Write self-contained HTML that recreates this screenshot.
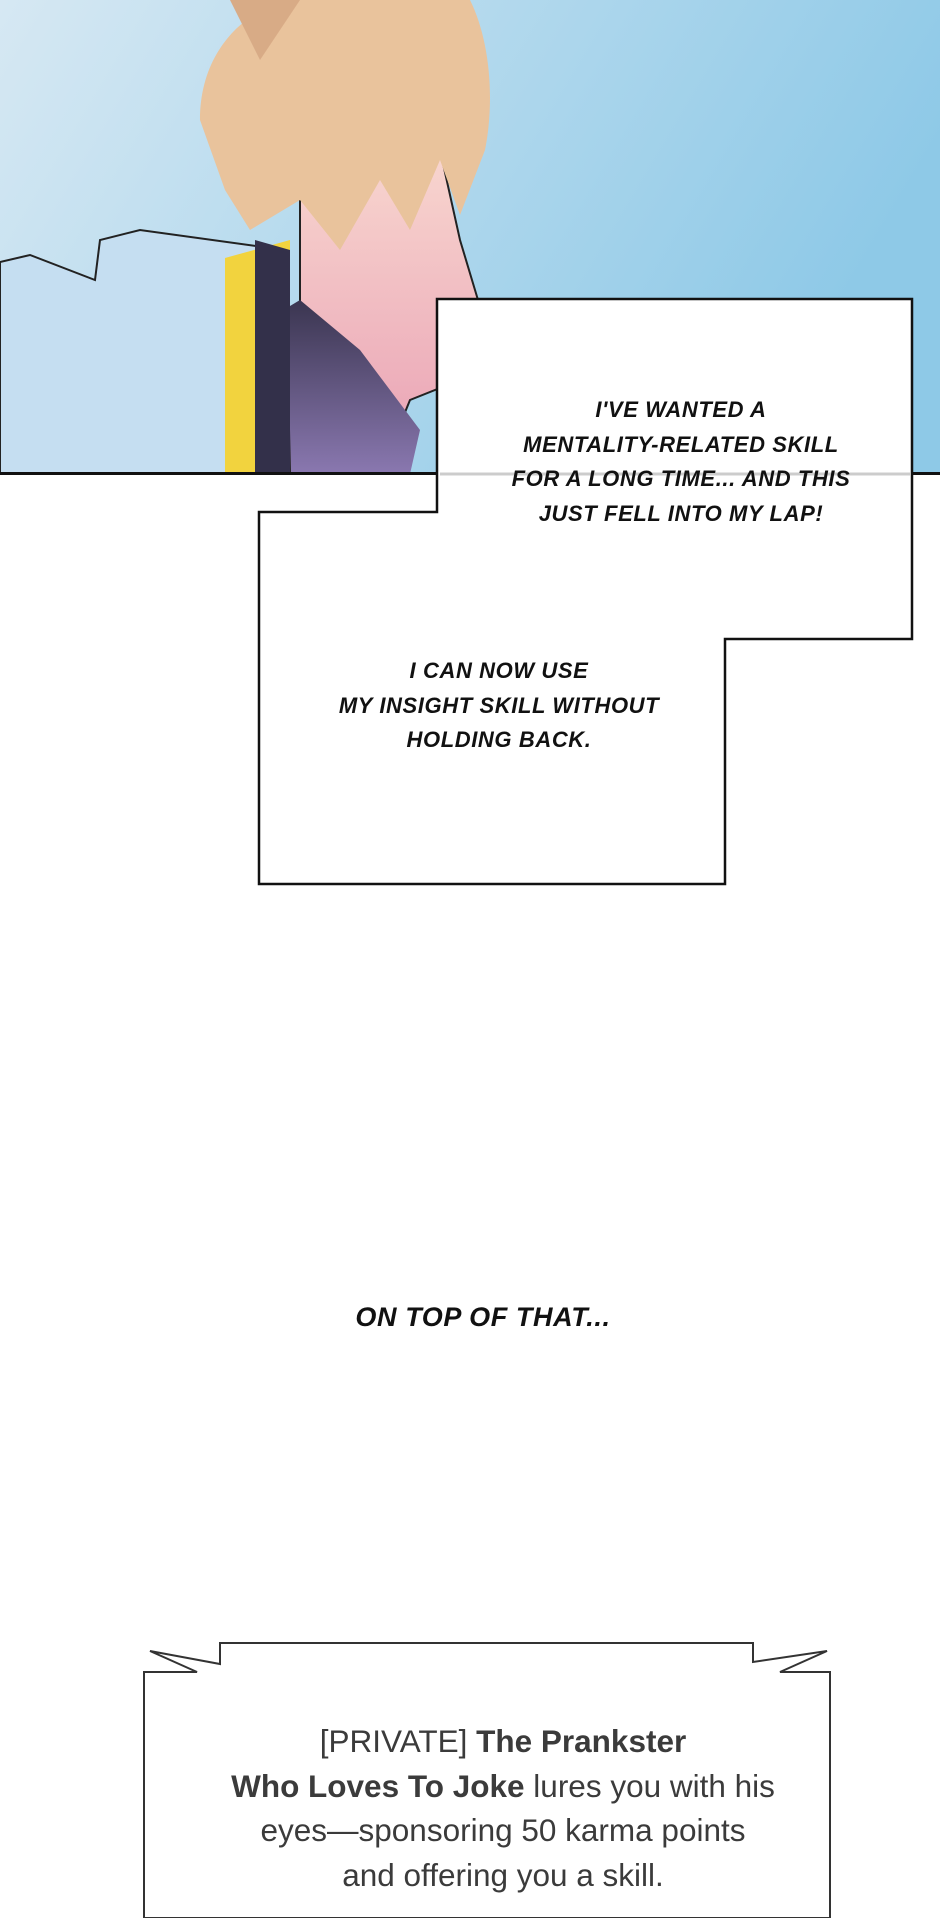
<!DOCTYPE html>
<html><head><meta charset="utf-8"><style>
html,body{margin:0;padding:0;background:#fff;}
body{width:940px;height:1918px;position:relative;overflow:hidden;font-family:"Liberation Sans",sans-serif;}
.c{position:absolute;font-style:italic;font-weight:bold;color:#111;text-transform:uppercase;font-size:22px;letter-spacing:0.6px;text-align:center;white-space:nowrap;transform:translateX(-50%);line-height:34.5px;}
.n{position:absolute;left:503px;top:1719px;transform:translateX(-50%);text-align:center;white-space:nowrap;font-family:"Liberation Sans",sans-serif;font-size:31.5px;line-height:44.5px;color:#3b3b3b;}
</style></head><body>
<svg width="940" height="1918" style="position:absolute;left:0;top:0">
<defs>
<linearGradient id="sky" x1="0" y1="0" x2="1" y2="0.3">
<stop offset="0" stop-color="#d6e8f3"/><stop offset="1" stop-color="#8ec9e7"/>
</linearGradient>
<linearGradient id="face" x1="0" y1="0" x2="0" y2="1">
<stop offset="0" stop-color="#f8d6cf"/><stop offset="1" stop-color="#e9a0b4"/>
</linearGradient>
<linearGradient id="coll" x1="0" y1="0" x2="0" y2="1">
<stop offset="0" stop-color="#3a3550"/><stop offset="1" stop-color="#8a78b0"/>
</linearGradient>
</defs>
<rect x="0" y="0" width="940" height="474" fill="url(#sky)"/>
<path d="M300 180 L440 150 L460 240 L478 300 L455 330 L460 380 L410 400 L380 474 L300 474 Z" fill="url(#face)" stroke="#222" stroke-width="2"/>
<path d="M250 330 L300 300 L360 350 L420 430 L410 474 L250 474 Z" fill="url(#coll)"/>
<path d="M0 474 L0 262 L30 255 L95 280 L100 240 L140 230 L285 250 L290 474 Z" fill="#c5def1" stroke="#222" stroke-width="2"/>
<path d="M225 258 L290 240 L290 474 L225 474 Z" fill="#f2d33e"/>
<path d="M255 240 L290 250 L290 474 L255 474 Z" fill="#33304a"/>
<path d="M200 120 C200 40 260 0 300 0 L470 0 C490 40 495 100 485 150 L460 215 L440 160 L410 230 L380 180 L340 250 L300 200 L250 230 L225 190 Z" fill="#e9c39c"/>
<path d="M230 0 L300 0 L260 60 Z" fill="#d8ab86"/>
<rect x="0" y="472" width="940" height="3" fill="#111"/>
<path d="M437 299 L912 299 L912 639 L725 639 L725 884 L259 884 L259 512 L437 512 Z" fill="#fff" stroke="#111" stroke-width="2.5"/>
<line x1="440" y1="474" x2="910" y2="474" stroke="#ccc" stroke-width="3"/>
<path d="M220 1643 L753 1643 L753 1662 L827 1651 L780 1672 L830 1672 L830 1918 L144 1918 L144 1672 L197 1672 L150 1651 L220 1664 Z" fill="#fff" stroke="#333" stroke-width="2"/>
</svg>
<div class="c" style="left:681px;top:393px">I'VE WANTED A<br>MENTALITY-RELATED SKILL<br>FOR A LONG TIME... AND THIS<br>JUST FELL INTO MY LAP!</div>
<div class="c" style="left:499px;top:654px">I CAN NOW USE<br>MY INSIGHT SKILL WITHOUT<br>HOLDING BACK.</div>
<div class="c" style="left:483px;top:1300px;font-size:27px">ON TOP OF THAT...</div>
<div class="n">[PRIVATE] <b>The Prankster</b><br><b>Who Loves To Joke</b> lures you with his<br>eyes—sponsoring 50 karma points<br>and offering you a skill.</div>
</body></html>
